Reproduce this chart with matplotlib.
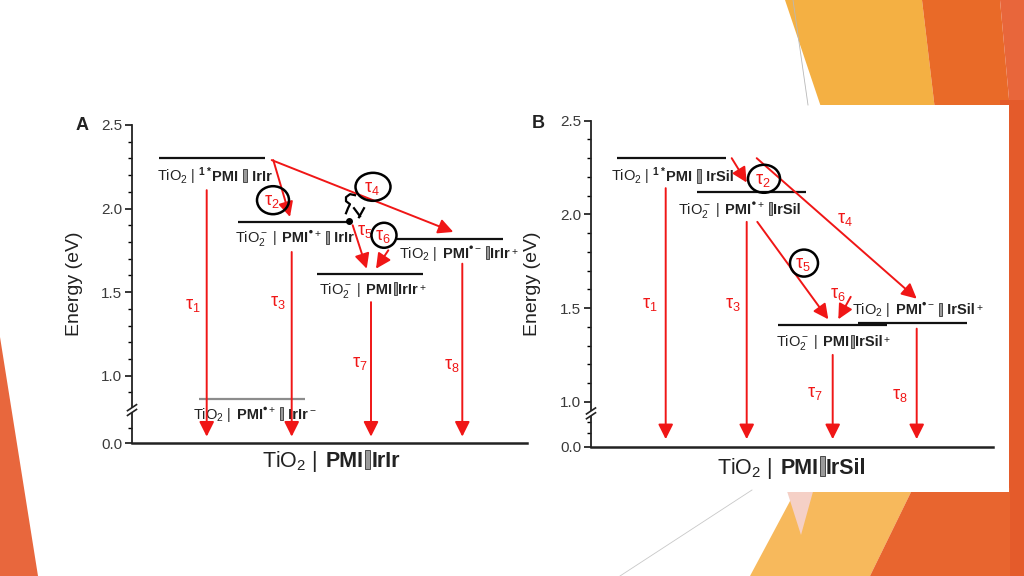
import matplotlib
matplotlib.use('Agg')
import matplotlib.pyplot as plt
from matplotlib.patches import Polygon, Rectangle, Ellipse, Circle
from matplotlib.offsetbox import TextArea, DrawingArea, HPacker, AnnotationBbox

plt.rcParams['font.family'] = ['Liberation Sans', 'DejaVu Sans']
plt.rcParams['mathtext.fontset'] = 'custom'
plt.rcParams['mathtext.rm'] = 'Liberation Sans'
plt.rcParams['mathtext.it'] = 'Liberation Sans:italic'
plt.rcParams['mathtext.bf'] = 'Liberation Sans:bold'

RED = '#f01616'
INK = '#222222'
BAR = None    # grey spacer block in the names
DOT = 'dot'   # radical dot, raised

# ---- data ----
ytick_vals = [0.0, 1.0, 1.5, 2.0, 2.5]
ytick_labels = ['0.0', '1.0', '1.5', '2.0', '2.5']
minor_vals = [0.9, 1.1, 1.2, 1.3, 1.4, 1.6, 1.7, 1.8, 1.9, 2.1, 2.2, 2.3, 2.4]

energy_A = [2.30, 1.92, 1.61, 1.82, 0.86]
energy_B = [2.30, 2.12, 1.41, 1.42]

names_A = [
    [('TiO$_2$ | $^{\\mathbf{1*}}$', 0), ('PMI ', 1), BAR, (' IrIr', 1)],
    [('TiO$_2^-$ |  ', 0), ('PMI', 1), DOT, ('$^+$ ', 0), BAR, (' IrIr', 1)],
    [('TiO$_2^-$ |  ', 0), ('PMI', 1), BAR, ('IrIr', 1), ('$^+$', 0)],
    [('TiO$_2$ |  ', 0), ('PMI', 1), DOT, ('$^-$ ', 0), BAR, ('IrIr', 1), ('$^+$', 0)],
    [('TiO$_2$ |  ', 0), ('PMI', 1), DOT, ('$^+$ ', 0), BAR, (' IrIr', 1), ('$^-$', 0)],
]
names_B = [
    [('TiO$_2$ | $^{\\mathbf{1*}}$', 0), ('PMI ', 1), BAR, (' IrSil', 1)],
    [('TiO$_2^-$ |  ', 0), ('PMI', 1), DOT, ('$^+$ ', 0), BAR, ('IrSil', 1)],
    [('TiO$_2^-$ |  ', 0), ('PMI', 1), BAR, ('IrSil', 1), ('$^+$', 0)],
    [('TiO$_2$ |  ', 0), ('PMI', 1), DOT, ('$^-$ ', 0), BAR, (' IrSil', 1), ('$^+$', 0)],
]
ground_A = [('TiO$_2$ |  ', 0), ('PMI', 1), BAR, ('IrIr', 1)]
ground_B = [('TiO$_2$ |  ', 0), ('PMI', 1), BAR, ('IrSil', 1)]

taus = ['τ$_{%d}$' % i for i in range(1, 9)]

# transitions (tau number, from state, to state); -1 is the ground state
trans_A = [(1, 0, -1), (2, 0, 1), (3, 1, -1), (4, 0, 3), (5, 1, 2), (6, 3, 2), (7, 2, -1), (8, 3, -1)]
trans_B = [(1, 0, -1), (2, 0, 1), (3, 1, -1), (4, 0, 3), (5, 1, 2), (6, 3, 2), (7, 2, -1), (8, 3, -1)]
circled_A = [2, 4, 6]
circled_B = [2, 5]

# ---- layout (x in pixels from the y axis) ----
geom_A = dict(rect=(132, 125, 527, 443.3), zero=0.595, brk=0.794, low=[0.685],
              tag=(-0.127, 1.0, 'A'), ylab=-0.124, xlab=(0.504, -0.058))
geom_B = dict(rect=(591, 120.7, 993.3, 446.7), zero=0.76, brk=0.938, low=[0.832, 0.893],
              tag=(-0.131, 0.99, 'B'), ylab=-0.125, xlab=(0.499, -0.066))

bars_A = [(27, 133), (106, 215), (185, 291), (265, 371), (67, 173)]
bars_B = [(26, 135), (106, 215), (187, 296), (267, 376)]
lab_pos_A = [(25, -0.105), (103, -0.10), (187, -0.10), (267, -0.09), (61, -0.095)]
lab_pos_B = [(20, -0.097), (87, -0.097), (185, -0.095), (261, 0.069)]
arr_A = [(74.7, 74.7, -0.19, 0.04), (141.3, 158, -0.01, 0.03), (159.7, 159.7, -0.18, 0.04),
         (139.7, 321.3, -0.01, 0.04), (220.7, 234.7, -0.02, 0.03), (256.3, 244, -0.07, 0.03),
         (239, 239, -0.17, 0.04), (330.3, 330.3, -0.15, 0.04)]
arr_B = [(74.7, 74.7, -0.16, 0.04), (140.7, 155.7, 0.0, 0.05), (155.7, 155.7, -0.16, 0.04),
         (165.7, 325.7, 0.0, 0.13), (166.3, 237.3, -0.16, 0.03), (259.7, 247.3, 0.14, 0.03),
         (241.7, 241.7, -0.16, 0.04), (325.7, 325.7, -0.03, 0.04)]
tau_pos_A = [(61, 1.42), (140, 2.04), (146, 1.44), (240, 2.12), (233, 1.86), (251, 1.83), (228, 1.07), (320, 1.06)]
tau_pos_B = [(59, 1.52), (172, 2.18), (142, 1.52), (254, 1.97), (212, 1.73), (247, 1.57), (224, 1.045), (309, 1.035)]
ring_px = {2: (32, 28), 4: (35, 28), 5: (28, 27), 6: (25, 25)}


def ypos(E, g):
    return E if E >= 0.5 else g['zero'] + E


def name_box(parts, size):
    kids = []
    for p in parts:
        if p is None:
            da = DrawingArea(size * 0.36, size * 0.82, 0, size * 0.1)
            da.add_artist(Rectangle((size * 0.07, -size * 0.1), size * 0.22, size * 0.9,
                                    fc='#9a9a9a', ec='#333333', lw=0.6))
            kids.append(da)
        elif p == DOT:
            da = DrawingArea(size * 0.3, size * 0.9, 0, 0)
            da.add_artist(Circle((size * 0.16, size * 0.72), size * 0.12, fc=INK, ec='none'))
            kids.append(da)
        else:
            kids.append(TextArea(p[0], textprops=dict(size=size, color=INK,
                                                      weight='bold' if p[1] else 'normal')))
    return HPacker(children=kids, align='baseline', pad=0, sep=0)


def draw_panel(ax, g, energy, bars, names, lab_pos, trans, arr, tau_pos, circled, ground):
    l, t, r, b = g['rect']
    ax.set_xlim(0, r - l)
    ax.set_ylim(g['zero'], 2.5)
    ax.set_facecolor('none')
    for s in ['top', 'right']:
        ax.spines[s].set_visible(False)
    ax.spines['bottom'].set_linewidth(1.8)
    ax.spines['bottom'].set_color(INK)
    ax.spines['left'].set_linewidth(1.3)
    ax.spines['left'].set_color(INK)
    ax.set_xticks([])
    ax.set_yticks([ypos(v, g) for v in ytick_vals])
    ax.set_yticklabels(ytick_labels)
    ax.set_yticks(minor_vals[(0 if g['brk'] < 0.9 else 1):] + g['low'], minor=True)
    ax.tick_params(axis='y', which='major', direction='out', length=5, width=1.1,
                   labelsize=11, labelcolor='#3a3a3a', pad=2)
    ax.tick_params(axis='y', which='minor', direction='out', length=3, width=1.0)
    ax.set_ylabel('Energy (eV)', fontsize=14, color=INK)
    ax.yaxis.set_label_coords(g['ylab'], 0.5)
    tx, ty, tag = g['tag']
    ax.text(tx, ty, tag, transform=ax.transAxes, fontsize=13, weight='bold',
            ha='center', va='center', color=INK)

    # axis break
    ppe = (b - t) / (2.5 - g['zero'])
    yb = g['brk']
    ax.plot([0, 0], [yb - 2.2 / ppe, yb + 2.2 / ppe], color='white', lw=3,
            clip_on=False, zorder=4, solid_capstyle='butt')
    for off in (-2.4, 2.4):
        ax.plot([-4.5, 4.5], [yb + (off - 3) / ppe, yb + (off + 3) / ppe],
                color=INK, lw=1.2, clip_on=False, zorder=5)

    # levels and names
    for i, E in enumerate(energy):
        x0, x1 = bars[i]
        col = '#8c8c8c' if E < 1.0 else '#111111'
        ax.plot([x0, x1], [E, E], color=col, lw=1.6, solid_capstyle='butt', zorder=3)
        lx, dE = lab_pos[i]
        ab = AnnotationBbox(name_box(names[i], 10.5), (lx, E + dE), frameon=False, pad=0,
                            box_alignment=(0, 0.5), annotation_clip=False)
        ax.add_artist(ab)
    ab = AnnotationBbox(name_box(ground, 15.5), g['xlab'], xycoords='axes fraction',
                        frameon=False, pad=0, box_alignment=(0.5, 0.5), annotation_clip=False)
    ax.add_artist(ab)

    # transitions
    for (n, src, dst), (x0, x1, d0, d1) in zip(trans, arr):
        y0 = ypos(energy[src], g) + d0
        y1 = ypos(energy[dst] if dst >= 0 else 0.0, g) + d1
        ax.annotate('', xy=(x1, y1), xytext=(x0, y0),
                    arrowprops=dict(arrowstyle='-|>,head_length=0.5,head_width=0.25',
                                    mutation_scale=18, color=RED, lw=1.4,
                                    shrinkA=0, shrinkB=0), zorder=4)
        tx, ty = tau_pos[n - 1]
        ax.text(tx, ty, taus[n - 1], color=RED, fontsize=13, ha='center', va='center', zorder=6)
        if n in circled:
            cw, ch = ring_px[n]
            ax.add_patch(Ellipse((tx + 1, ty + 0.01), cw, ch / ppe, fill=False,
                                 ec='black', lw=1.8, zorder=7, clip_on=False))


fig = plt.figure(figsize=(10.24, 5.76), dpi=100)

# slide background
bg = fig.add_axes([0, 0, 1, 1], zorder=0)
bg.set_xlim(0, 1024)
bg.set_ylim(576, 0)
bg.axis('off')
shapes = [
    ([(0, 337), (38, 576), (0, 576)], '#e8673d'),
    ([(785, 0), (922, 0), (935, 110), (822, 110)], '#f4b043'),
    ([(922, 0), (1000, 0), (1010, 110), (935, 110)], '#e96a28'),
    ([(1000, 0), (1024, 0), (1024, 110), (1010, 110)], '#e8663b'),
    ([(1000, 100), (1024, 100), (1024, 576), (1000, 576)], '#e45b2b'),
    ([(797, 488), (913, 488), (870, 576), (750, 576)], '#f7b95c'),
    ([(913, 488), (1010, 488), (1010, 576), (870, 576)], '#e8652f'),
    ([(786, 488), (814, 488), (801, 535)], '#f5d0c6'),
]
for pts, c in shapes:
    bg.add_patch(Polygon(pts, closed=True, fc=c, ec='none'))
bg.plot([793, 808], [0, 105], color='#b8b8b8', lw=0.6)
bg.plot([620, 752], [576, 490], color='#c8c8c8', lw=0.6)
bg.add_patch(Rectangle((528, 105), 481, 387, fc='white', ec='none'))

axA = fig.add_axes([132 / 1024, (576 - 443.3) / 576, 395 / 1024, 318.3 / 576], zorder=2)
axB = fig.add_axes([591 / 1024, (576 - 446.7) / 576, 402.3 / 1024, 326 / 576], zorder=2)

draw_panel(axA, geom_A, energy_A, bars_A, names_A, lab_pos_A, trans_A, arr_A,
           tau_pos_A, circled_A, ground_A)
draw_panel(axB, geom_B, energy_B, bars_B, names_B, lab_pos_B, trans_B, arr_B,
           tau_pos_B, circled_B, ground_B)

# hand-drawn squiggle and dot in panel A
sq_x = [223, 218, 214, 214, 218, 216, 214]
sq_y = [2.080, 2.086, 2.068, 2.044, 2.026, 2.002, 1.972]
axA.plot(sq_x, sq_y, color='black', lw=1.6, zorder=7)
axA.plot([222, 228], [2.002, 1.954], color='black', lw=1.6, zorder=7)
axA.plot([232, 227], [2.002, 1.948], color='black', lw=1.6, zorder=7)
axA.plot([217], [1.924], 'o', color='black', ms=4, zorder=7)

fig.savefig('out.png', dpi=100)
